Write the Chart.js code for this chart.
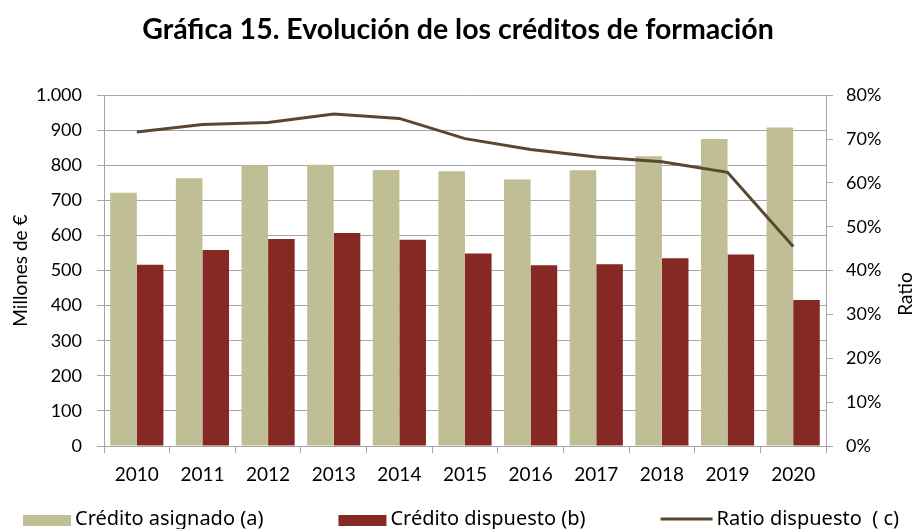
<!DOCTYPE html>
<html>
<head>
<meta charset="utf-8">
<script src="https://cdn.jsdelivr.net/npm/chart.js@4/dist/chart.umd.min.js"></script>
<style>
  html, body { margin: 0; padding: 0; background: #fff; }
  #wrap { width: 916px; height: 529px; position: relative; }
</style>
</head>
<body>
<div id="wrap"><canvas id="c" width="916" height="529"></canvas></div>
<script>
const years = ['2010','2011','2012','2013','2014','2015','2016','2017','2018','2019','2020'];
const creditoAsignado = [722, 763, 800, 802, 787, 783, 760, 786, 826, 875, 908];
const creditoDispuesto = [517, 559, 590, 607, 588, 549, 515, 518, 535, 546, 416];
const ratioDispuesto = [0.716, 0.733, 0.738, 0.757, 0.747, 0.701, 0.676, 0.659, 0.648, 0.624, 0.455];
const seriesNames = ['Crédito asignado (a)', 'Crédito dispuesto (b)', 'Ratio dispuesto  ( c)'];
const chartTitle = 'Gráfica 15. Evolución de los créditos de formación';
const leftAxisTitle = 'Millones de €';
const rightAxisTitle = 'Ratio';

const COL_A = '#c0be94';
const COL_B = '#862823';
const COL_C = '#5a4731';
const GRID = '#a6a6a6';

function fmtThousands(v) {
  return String(v).replace(/\B(?=(\d{3})+(?!\d))/g, '.');
}

const customLegend = {
  id: 'customLegend',
  afterDraw(chart) {
    const ctx = chart.ctx;
    const ds = chart.data.datasets;
    ctx.save();
    ctx.font = '20px "Noto Sans"';
    ctx.textBaseline = 'middle';
    const boxW = 48, lineW = 52, gapText = 4, gapItem = 75;
    const items = ds.map(d => {
      const sw = d.type === 'line' ? lineW : boxW;
      const tw = ctx.measureText(d.label).width;
      return { d, sw, tw, w: sw + gapText + tw };
    });
    const total = items.reduce((s, it) => s + it.w, 0) + gapItem * (items.length - 1);
    let x = 461 - total / 2;
    const yc = 519;
    items.forEach(it => {
      if (it.d.type === 'line') {
        ctx.strokeStyle = it.d.borderColor;
        ctx.lineWidth = 3;
        ctx.beginPath();
        ctx.moveTo(x, yc);
        ctx.lineTo(x + it.sw, yc);
        ctx.stroke();
      } else {
        ctx.fillStyle = it.d.backgroundColor;
        ctx.fillRect(x, yc - 4, it.sw, 11);
      }
      ctx.fillStyle = '#000';
      ctx.fillText(it.d.label, x + it.sw + gapText, yc);
      x += it.w + gapItem;
    });
    // right axis title (reads bottom-to-top)
    ctx.font = '19px Lato';
    ctx.textAlign = 'center';
    ctx.translate(906, 294);
    ctx.rotate(-Math.PI / 2);
    ctx.fillText(rightAxisTitle, 0, 0);
    ctx.restore();
  }
};

new Chart(document.getElementById('c'), {
  data: {
    labels: years,
    datasets: [
      { type: 'bar', label: seriesNames[0], data: creditoAsignado, backgroundColor: COL_A,
        yAxisID: 'y', order: 2, categoryPercentage: 0.81, barPercentage: 1.0 },
      { type: 'bar', label: seriesNames[1], data: creditoDispuesto, backgroundColor: COL_B,
        yAxisID: 'y', order: 2, categoryPercentage: 0.81, barPercentage: 1.0 },
      { type: 'line', label: seriesNames[2], data: ratioDispuesto, borderColor: COL_C,
        backgroundColor: COL_C, borderWidth: 3, pointRadius: 0, tension: 0,
        yAxisID: 'y1', order: 0 }
    ]
  },
  options: {
    responsive: false,
    animation: false,
    layout: { padding: { left: 0, right: 0, top: 0, bottom: 0 } },
    plugins: {
      legend: { display: false },
      tooltip: { enabled: false },
      title: {
        display: true,
        text: chartTitle,
        color: '#000',
        font: { family: 'Lato', size: 28.5, weight: 'bold' },
        padding: { top: 13, bottom: 48 }
      }
    },
    scales: {
      x: {
        offset: true,
        grid: { display: true, drawOnChartArea: false, drawTicks: true, tickLength: 7, color: GRID, offset: true },
        border: { display: true, color: GRID },
        ticks: { color: '#000', font: { family: 'Lato', size: 19 }, padding: 10, maxRotation: 0 },
        afterFit(s) { s.height = 83; }
      },
      y: {
        position: 'left',
        min: 0, max: 1000,
        grid: { color: GRID, drawTicks: true, tickLength: 7 },
        border: { display: true, color: GRID },
        ticks: { stepSize: 100, color: '#000', font: { family: 'Lato', size: 18 }, padding: 15,
                 callback: v => fmtThousands(v) },
        title: { display: true, text: leftAxisTitle, color: '#000',
                 font: { family: 'Lato', size: 19 }, padding: { top: 9, bottom: 0 } },
        afterFit(s) { s.width = 104; }
      },
      y1: {
        position: 'right',
        min: 0, max: 0.8,
        grid: { drawOnChartArea: false, drawTicks: true, tickLength: 7, color: GRID },
        border: { display: true, color: GRID },
        ticks: { stepSize: 0.1, color: '#000', font: { family: 'Lato', size: 18 }, padding: 13,
                 callback: v => Math.round(v * 100) + '%' },
        afterFit(s) { s.width = 90; }
      }
    }
  },
  plugins: [customLegend]
});
</script>
</body>
</html>
